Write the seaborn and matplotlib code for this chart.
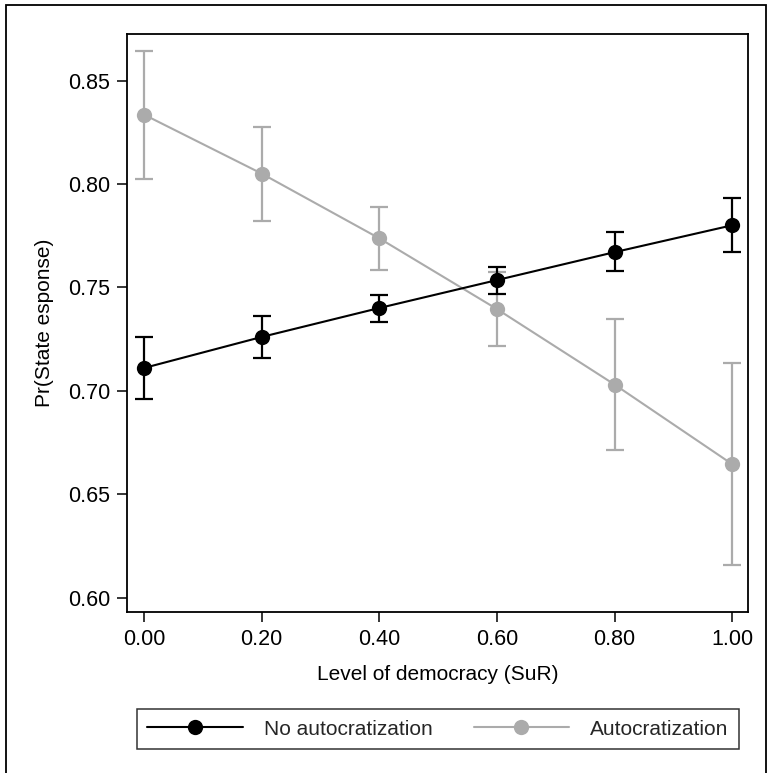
import numpy as np
import pandas as pd
import matplotlib
matplotlib.use("Agg")
import matplotlib.pyplot as plt
import seaborn as sns
from matplotlib.patches import Rectangle

# ---- data ----
democracy = [0.0, 0.2, 0.4, 0.6, 0.8, 1.0]
no_auto = [0.711, 0.726, 0.740, 0.7535, 0.767, 0.780]
no_auto_lo = [0.696, 0.716, 0.7334, 0.747, 0.758, 0.767]
no_auto_hi = [0.726, 0.736, 0.7464, 0.760, 0.7766, 0.793]
auto = [0.8335, 0.805, 0.7737, 0.7395, 0.703, 0.6645]
auto_lo = [0.8026, 0.7823, 0.7583, 0.7217, 0.6714, 0.6157]
auto_hi = [0.8645, 0.8274, 0.7887, 0.7573, 0.7345, 0.7133]
groups = ["No autocratization", "Autocratization"]
yticks = [0.60, 0.65, 0.70, 0.75, 0.80, 0.85]
xticks = [0.0, 0.2, 0.4, 0.6, 0.8, 1.0]

BLACK = "#000000"
GRAY = "#ababab"

sns.set_theme(style="white")
plt.rcParams["font.family"] = ["Liberation Sans", "DejaVu Sans"]

df = pd.DataFrame({
    "x": democracy * 2,
    "y": no_auto + auto,
    "group": [groups[0]] * 6 + [groups[1]] * 6,
})

fig = plt.figure(figsize=(7.68, 7.73), dpi=100)
ax = fig.add_axes([127 / 768, 1 - 612 / 773, (748 - 127) / 768, (612 - 34) / 773])

ax.errorbar(democracy, auto, yerr=[np.array(auto) - np.array(auto_lo), np.array(auto_hi) - np.array(auto)],
            fmt="none", ecolor=GRAY, elinewidth=1.6, capsize=6.5, capthick=1.6, zorder=2)
ax.errorbar(democracy, no_auto, yerr=[np.array(no_auto) - np.array(no_auto_lo), np.array(no_auto_hi) - np.array(no_auto)],
            fmt="none", ecolor=BLACK, elinewidth=1.6, capsize=6.5, capthick=1.6, zorder=4)

sns.lineplot(data=df[df.group == groups[1]], x="x", y="y", color=GRAY, marker="o",
             markersize=11, markeredgewidth=0, linewidth=1.5, ax=ax, legend=False, zorder=3)
sns.lineplot(data=df[df.group == groups[0]], x="x", y="y", color=BLACK, marker="o",
             markersize=11, markeredgewidth=0, linewidth=1.5, ax=ax, legend=False, zorder=5)

ax.set_xlim(-0.029, 1.027)
ax.set_ylim(0.593, 0.8725)
ax.set_xticks(xticks)
ax.set_xticklabels([f"{t:.2f}" for t in xticks])
ax.set_yticks(yticks)
ax.set_yticklabels([f"{t:.2f}" for t in yticks])
ax.tick_params(axis="both", direction="out", length=7, width=1.1, color="black",
               labelsize=15.5, labelcolor="black", pad=5, left=True, bottom=True)
for s in ax.spines.values():
    s.set_visible(True)
    s.set_color("black")
    s.set_linewidth(1.3)
ax.set_xlabel("Level of democracy (SuR)", fontsize=15, color="black", labelpad=11)
ax.set_ylabel("Pr(State esponse)", fontsize=15, color="black", labelpad=10)
ax.grid(False)

lines = ax.get_lines()
h_black = [l for l in lines if l.get_color() == BLACK and l.get_marker() == "o"][0]
h_gray = [l for l in lines if l.get_color() == GRAY and l.get_marker() == "o"][0]
leg = fig.legend([h_black, h_gray], groups, ncol=2, loc="lower left",
                 bbox_to_anchor=(136.7 / 768, 1 - 749 / 773, (739 - 136.7) / 768, 48 / 773),
                 mode="expand", fontsize=15, handlelength=4.6, frameon=True, fancybox=False,
                 edgecolor="black", borderpad=0.5, handletextpad=1.0, columnspacing=2.0,
                 borderaxespad=0)
leg.get_frame().set_linewidth(1.1)

fig.patches.append(Rectangle((6 / 768, -0.05), (766 - 6) / 768, 1.05 - 5 / 773,
                             transform=fig.transFigure, fill=False, edgecolor="black",
                             linewidth=1.3, clip_on=False))

fig.savefig("out.png", dpi=100, facecolor="white")
